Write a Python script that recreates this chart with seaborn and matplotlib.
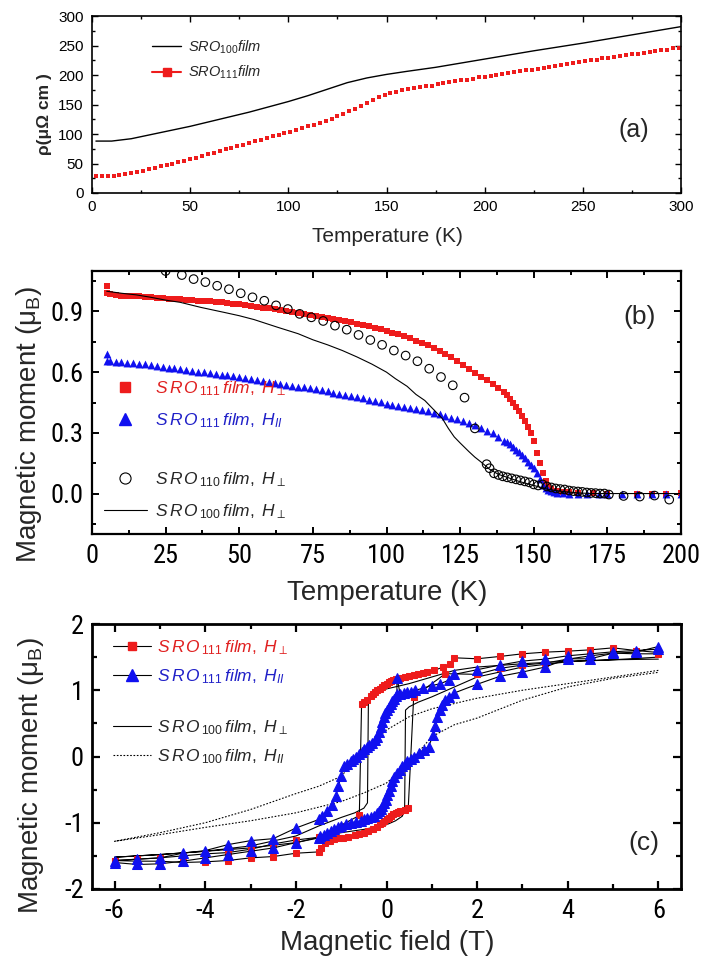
import numpy as np
import pandas as pd
import matplotlib
matplotlib.use('Agg')
import matplotlib.pyplot as plt
from matplotlib.lines import Line2D
from matplotlib.ticker import MultipleLocator
from matplotlib import font_manager
import seaborn as sns

# ---------------- data: panel (a) resistivity ----------------
T_a_100 = [2, 10, 20, 30, 40, 50, 60, 70, 80, 90, 100, 110, 120, 130, 140, 150, 160, 175, 200, 225, 250, 275, 300]
rho_100 = [88, 88, 92, 99, 106, 113, 121, 129, 137, 146, 155, 165, 176, 187, 195, 201, 206, 213, 227, 241, 254, 268, 282]

T_a_111 = [2, 5, 8, 11, 14, 17, 20, 23, 26, 29, 32, 35, 38, 41, 44, 47, 50, 53, 56, 59,
           62, 65, 68, 71, 74, 77, 80, 83, 86, 89, 92, 95, 98, 101, 104, 107, 110, 113, 116, 119,
           122, 125, 128, 131, 134, 137, 140, 143, 146, 149, 152, 155, 158, 161, 164, 167, 170, 173, 176, 179,
           182, 185, 188, 191, 194, 197, 200, 203, 206, 209, 212, 215, 218, 221, 224, 227, 230, 233, 236, 239,
           242, 245, 248, 251, 254, 257, 260, 263, 266, 269, 272, 275, 278, 281, 284, 287, 290, 293, 296, 299]
rho_111 = [28, 28, 28, 29, 30, 32, 34, 36, 38, 40, 42, 45, 47, 50, 52, 55, 57, 60, 63, 66,
           68, 71, 74, 77, 79, 82, 85, 88, 90, 93, 96, 98, 101, 104, 107, 110, 113, 116, 119, 122,
           126, 130, 134, 139, 143, 148, 153, 158, 162, 166, 169, 172, 174, 176, 178, 180, 181, 182, 184, 186,
           188, 190, 191, 192, 194, 196, 197, 199, 200, 202, 203, 205, 206, 208, 209, 211, 212, 214, 215, 217,
           218, 220, 222, 223, 225, 226, 228, 229, 231, 232, 234, 235, 236, 238, 239, 241, 242, 243, 245, 246]

# ---------------- data: panel (b) M(T) ----------------
T_b_111perp = [5, 5, 6, 8, 10, 12, 14, 16, 18, 20, 22, 24, 26, 28, 30, 32, 34, 36, 38, 40, 42, 44, 46, 48, 50,
               52, 54, 56, 58, 60, 62, 64, 66, 68, 70, 72, 74, 76, 78, 80, 82, 84, 86, 88, 90, 92, 94, 96, 98, 100,
               102, 104, 106, 108, 110, 112, 114, 116, 118, 120, 122, 124, 126, 128, 130, 132, 134, 136, 138, 140,
               141, 142, 143, 144, 145, 146, 147, 148, 149, 150, 151, 152, 153, 154, 155, 156,
               158, 160, 162, 165, 170, 175, 185, 190, 195, 200]
M_b_111perp = [1.025, 0.99, 0.985,
               0.98, 0.978, 0.977, 0.976, 0.975, 0.973, 0.97, 0.968, 0.966, 0.964,
               0.962, 0.96, 0.958, 0.956, 0.954, 0.952, 0.95, 0.948, 0.946, 0.943,
               0.939, 0.935, 0.931, 0.927, 0.923, 0.919, 0.915, 0.911, 0.907, 0.903,
               0.898, 0.893, 0.889, 0.884, 0.88, 0.875, 0.87, 0.864, 0.858, 0.852,
               0.846, 0.84, 0.833, 0.826, 0.819, 0.812, 0.805, 0.796, 0.787, 0.777,
               0.767, 0.756, 0.744, 0.732, 0.718, 0.704, 0.69, 0.673, 0.655, 0.636,
               0.616, 0.595, 0.577, 0.559, 0.54, 0.52, 0.5,
               0.485, 0.468, 0.45, 0.43, 0.41, 0.385, 0.36, 0.33, 0.3, 0.26, 0.2, 0.15, 0.1, 0.06, 0.035, 0.02,
               0.015, 0.01, 0.008, 0.005, 0.003, 0.0, 0.0, 0.0, 0.0, 0.005]

T_b_111par = [5, 5, 6, 8, 10, 12, 14, 16, 18, 20, 22, 24, 26, 28, 30, 32, 34, 36, 38, 40, 42, 44, 46, 48, 50,
              52, 54, 56, 58, 60, 62, 64, 66, 68, 70, 72, 74, 76, 78, 80, 82, 84, 86, 88, 90, 92, 94, 96, 98, 100,
              102, 104, 106, 108, 110, 112, 114, 116, 118, 120, 122, 124, 126, 128, 130, 132, 134, 136, 138, 140,
              141, 142, 143, 144, 145, 146, 147, 148, 149, 150, 151, 152, 153, 154, 155, 156, 157, 158,
              160, 162, 165, 168, 172, 175, 180, 185, 190, 195, 200]
M_b_111par = [0.69, 0.655, 0.653,
              0.65, 0.648, 0.646, 0.644, 0.641, 0.638, 0.634, 0.63, 0.627, 0.623,
              0.619, 0.615, 0.611, 0.607, 0.603, 0.599, 0.595, 0.591, 0.587, 0.584,
              0.581, 0.578, 0.573, 0.567, 0.562, 0.557, 0.551, 0.547, 0.542, 0.538,
              0.534, 0.529, 0.525, 0.52, 0.516, 0.51, 0.505, 0.499, 0.494, 0.488,
              0.483, 0.477, 0.471, 0.464, 0.458, 0.452, 0.445, 0.439, 0.433, 0.428,
              0.422, 0.417, 0.411, 0.406, 0.4, 0.392, 0.383, 0.375, 0.366, 0.357,
              0.347, 0.338, 0.325, 0.311, 0.297, 0.28, 0.262,
              0.254, 0.245, 0.231, 0.217, 0.203, 0.189, 0.174, 0.158, 0.141, 0.125, 0.1, 0.072, 0.043, 0.028,
              0.018, 0.012, 0.008, 0.005,
              0.003, 0.0, 0.0, 0.0, 0.0, 0.0, 0.0, 0.0, 0.0, 0.0, 0.0]

T_b_110perp = [25, 30.5, 34.5, 38.5, 42.5, 46.5, 50.5, 54.5, 58.5, 62.5, 66.5, 70.5, 74.5, 78.5, 82.5, 86.5,
               90.5, 94.5, 98.5, 102.5, 106.5, 110.5, 114.5, 118.5, 122.5, 126.5,
               130, 134, 135, 136.5, 138, 139.5, 141, 142.5, 144, 145.5,
               147, 148.5, 150, 151.5, 153, 154.5, 156, 157.5, 159, 160.5,
               162, 163.5, 165, 166.5, 168, 169.5, 171, 172.5, 174, 175.5,
               180.5, 186, 191, 196]
M_b_110perp = [1.10, 1.08, 1.06, 1.045, 1.027, 1.01, 0.99, 0.97, 0.953, 0.93, 0.912, 0.888, 0.871, 0.853, 0.83, 0.81,
               0.784, 0.759, 0.735, 0.707, 0.682, 0.654, 0.617, 0.576, 0.535, 0.474,
               0.322, 0.145, 0.125, 0.1, 0.092, 0.085, 0.08, 0.075, 0.07, 0.065,
               0.06, 0.055, 0.045, 0.04, 0.045, 0.035, 0.03, 0.025, 0.022, 0.02,
               0.015, 0.012, 0.01, 0.008, 0.005, 0.003, 0.002, 0.0, 0.0, -0.005,
               -0.012, -0.015, -0.01, -0.03]

T_b_100perp = [5, 10, 15, 20, 25, 30, 37, 45, 50, 55, 63, 70, 75, 80, 85, 90, 95, 100, 103, 107,
               110, 113, 115, 117, 119, 121, 123, 125, 128, 130, 132, 135, 138, 141, 145, 150, 155, 160, 165, 170,
               180, 190, 200]
M_b_100perp = [1.0, 0.99, 0.982, 0.97, 0.956, 0.945, 0.92, 0.895, 0.879, 0.86, 0.822, 0.79, 0.76, 0.735, 0.707,
               0.675, 0.64, 0.6, 0.568, 0.53, 0.49, 0.46, 0.43, 0.4, 0.37, 0.322, 0.28, 0.25, 0.207, 0.18,
               0.157, 0.12, 0.095, 0.08, 0.06, 0.04, 0.02, 0.01, 0.003, 0.0, 0.0, 0.0, 0.0]

# ---------------- data: panel (c) M(H) loops ----------------
H_111perp = [6, 5.5, 5, 4.5, 4, 3.5, 3, 2.5, 2, 1.5, 1.4, 1.25, 1.05, 0.9, 0.8, 0.7, 0.6, 0.5, 0.4, 0.3,
             0.2, 0.15, 0.1, 0.05, 0.0, -0.05, -0.1, -0.15, -0.2, -0.25, -0.3, -0.35, -0.43, -0.5, -0.55, -0.6,
             -1.5, -2, -2.5, -3, -3.5, -4, -4.5, -5, -5.5, -6,
             -6, -5.5, -5, -4.5, -4, -3.5, -3, -2.5, -2, -1.5, -1.45, -1.35, -1.25, -1.15, -1.05, -0.95, -0.85,
             -0.7, -0.6, -0.5, -0.4, -0.3, -0.2, -0.15, -0.1, -0.05, 0.0, 0.05, 0.1, 0.15, 0.2, 0.25, 0.3, 0.4,
             0.48, 0.6, 1.3, 2, 2.5, 3, 3.5, 4, 4.5, 5, 5.5, 6]
M_111perp = [1.57, 1.6, 1.64, 1.61, 1.59, 1.575, 1.55, 1.51, 1.475, 1.49, 1.39, 1.35, 1.3, 1.28, 1.265, 1.25,
             1.225, 1.21, 1.2, 1.18, 1.17, 1.16, 1.14, 1.12, 1.1, 1.08, 1.05, 1.025, 1.0, 0.97, 0.95, 0.91, 0.85,
             0.82, 0.79, -0.89,
             -1.22, -1.26, -1.32, -1.40, -1.45, -1.47, -1.5, -1.53, -1.55, -1.57,
             -1.57, -1.58, -1.58, -1.6, -1.59, -1.57, -1.53, -1.51, -1.46, -1.44, -1.375, -1.3, -1.27, -1.25,
             -1.235, -1.225, -1.21, -1.19, -1.17, -1.15, -1.13, -1.1, -1.06, -1.025, -1.0, -0.97, -0.95, -0.925,
             -0.9, -0.875, -0.86, -0.845, -0.825, -0.8, -0.775, 0.9, 1.25, 1.24, 1.33, 1.38, 1.41, 1.47, 1.52,
             1.56, 1.55, 1.55]

H_111par = [6, 5.5, 5, 4.5, 4, 3.5, 3, 2.5, 2, 1.5, 1.37, 1.19, 1.0, 0.8, 0.64, 0.53, 0.45, 0.38, 0.3, 0.23,
            0.23, 0.2, 0.16, 0.12, 0.09, 0.05, 0.01, -0.03, -0.06, -0.1, -0.13, -0.17, -0.21, -0.26, -0.32, -0.38,
            -0.43, -0.5, -0.54, -0.6, -0.68, -0.75, -0.79, -0.87, -0.94, -1.01, -1.06, -1.12, -1.2, -1.31, -1.42,
            -1.49, -2, -2.5, -3, -3.5, -4, -4.5, -5, -5.5, -6,
            -6, -5.5, -5, -4.5, -4, -3.5, -3, -2.5, -2, -1.5, -1.46, -1.38, -1.31, -1.23, -1.16, -1.08, -1.01,
            -0.9, -0.79, -0.68, -0.57, -0.5, -0.43, -0.35, -0.28, -0.22, -0.17, -0.13, -0.1, -0.06, -0.02, 0.02,
            0.05, 0.09, 0.12, 0.17, 0.23, 0.29, 0.35, 0.4, 0.46, 0.53, 0.6, 0.71, 0.82, 0.93, 1.03, 1.08, 1.12,
            1.18, 1.23, 1.3, 1.37, 1.5, 2, 2.5, 3, 3.5, 4, 4.5, 5, 5.5, 6]
M_111par = [1.62, 1.6, 1.58, 1.55, 1.52, 1.47, 1.44, 1.38, 1.31, 1.24, 1.15, 1.1, 1.07, 1.03, 1.0, 0.975, 0.97,
            0.96, 0.95, 1.19, 0.94, 0.91, 0.875, 0.84, 0.8, 0.75, 0.7, 0.65, 0.6, 0.52, 0.45, 0.37, 0.3, 0.25,
            0.2, 0.17, 0.15, 0.11, 0.075, 0.04, 0.0, -0.04, -0.075, -0.11, -0.15, -0.3, -0.45, -0.6, -0.725,
            -0.825, -0.9, -0.95, -1.08, -1.24, -1.27, -1.33, -1.42, -1.46, -1.53, -1.55, -1.57,
            -1.6, -1.63, -1.62, -1.58, -1.53, -1.48, -1.43, -1.38, -1.3, -1.23, -1.2, -1.18, -1.15, -1.12, -1.1,
            -1.07, -1.05, -1.02, -1.0, -0.99, -0.975, -0.95, -0.925, -0.91, -0.9, -0.86, -0.825, -0.79, -0.75,
            -0.7, -0.65, -0.58, -0.525, -0.45, -0.375, -0.31, -0.25, -0.2, -0.15, -0.11, -0.075, -0.04, 0.0,
            0.05, 0.1, 0.15, 0.325, 0.46, 0.6, 0.7, 0.775, 0.85, 0.9, 0.96, 1.09, 1.21, 1.275, 1.35, 1.475,
            1.475, 1.56, 1.575, 1.66]

H_100perp = [6, 5, 4, 3, 2, 1.5, 1, 0.5, 0, -0.2, -0.35, -0.4, -0.42, -0.5, -0.7, -1, -1.5, -2, -3, -4, -5, -6,
             -6, -5, -4, -3, -2, -1.5, -1, -0.5, 0, 0.2, 0.35, 0.4, 0.42, 0.5, 0.7, 1, 1.5, 2, 3, 4, 5, 6]
M_100perp = [1.47, 1.46, 1.44, 1.4, 1.35, 1.3, 1.2, 1.1, 1.02, 0.97, 0.9, 0.8, -0.7, -0.78, -0.85, -0.92, -1.05,
             -1.2, -1.35, -1.43, -1.48, -1.52,
             -1.52, -1.48, -1.43, -1.38, -1.3, -1.22, -1.15, -1.1, -1.03, -0.97, -0.9, -0.8, 0.7, 0.75, 0.82,
             0.9, 1.05, 1.2, 1.35, 1.43, 1.46, 1.5]

H_100par = [6, 5, 4, 3, 2, 1, 0.5, 0, -0.5, -1, -1.5, -2, -3, -4, -5, -6,
            -6, -5, -4, -3, -2, -1, -0.5, 0, 0.5, 1, 1.5, 2, 3, 4, 5, 6]
M_100par = [1.30, 1.2, 1.1, 1.0, 0.88, 0.72, 0.6, 0.4, 0.1, -0.3, -0.45, -0.56, -0.8, -1.0, -1.15, -1.28,
            -1.28, -1.18, -1.07, -0.97, -0.85, -0.68, -0.55, -0.4, -0.1, 0.3, 0.48, 0.58, 0.85, 1.05, 1.18, 1.27]

# ---------------- tick labels / text ----------------
xt_a = [0, 50, 100, 150, 200, 250, 300]
yt_a = [0, 50, 100, 150, 200, 250, 300]
xt_b = [0, 25, 50, 75, 100, 125, 150, 175, 200]
yt_b = [0.0, 0.3, 0.6, 0.9]
xt_c = [-6, -4, -2, 0, 2, 4, 6]
yt_c = [-2, -1, 0, 1, 2]

# ---------------- style ----------------
sns.set_theme(style='ticks')
names = {f.name for f in font_manager.fontManager.ttflist}
NARROW = 'Liberation Sans'
for cand in ['Liberation Sans Narrow', 'Arial Narrow', 'Roboto Condensed', 'Open Sans Condensed']:
    if cand in names:
        NARROW = cand
        break
TICKSIZE = 19 if NARROW != 'Liberation Sans' else 18
plt.rcParams['font.family'] = ['Liberation Sans', 'DejaVu Sans']
plt.rcParams['mathtext.fontset'] = 'custom'
plt.rcParams['mathtext.it'] = 'Liberation Sans:italic'
plt.rcParams['mathtext.rm'] = 'Liberation Sans'
plt.rcParams['mathtext.sf'] = 'Liberation Sans'
plt.rcParams['mathtext.bf'] = 'Liberation Sans:bold'
plt.rcParams['axes.unicode_minus'] = False

RED = '#ee1c1c'
BLUE = '#1010f0'
TRED = '#e02020'
TBLUE = '#2020c8'

fig = plt.figure(figsize=(7.04, 9.61), dpi=100)
fig.patch.set_facecolor('white')
W, H = 704.0, 961.0


def box(l, t, r, b):
    return [l / W, 1 - b / H, (r - l) / W, (b - t) / H]


def style_axes(ax, lw, majlen, minlen, tw):
    for s in ax.spines.values():
        s.set_linewidth(lw)
        s.set_color('black')
    ax.tick_params(which='both', direction='in', top=True, right=True, colors='black')
    ax.tick_params(which='major', length=majlen, width=tw)
    ax.tick_params(which='minor', length=minlen, width=tw)
    ax.set_facecolor('white')
    ax.grid(False)
    ax.set_xlabel('')
    ax.set_ylabel('')


# ================= panel (a) =================
ax_a = fig.add_axes(box(92, 16, 681, 193))
sns.lineplot(x=T_a_100, y=rho_100, ax=ax_a, color='black', lw=1.0, sort=False, estimator=None)
sns.scatterplot(x=T_a_111, y=rho_111, ax=ax_a, marker='s', s=10, color=RED, edgecolor=RED, linewidth=0)
ax_a.set_xlim(0, 300)
ax_a.set_ylim(0, 300)
ax_a.xaxis.set_minor_locator(MultipleLocator(25))
ax_a.yaxis.set_minor_locator(MultipleLocator(25))
ax_a.set_xticks(xt_a, [str(v) for v in xt_a], fontsize=11)
ax_a.set_yticks(yt_a, [str(v) for v in yt_a], fontsize=11)
style_axes(ax_a, 1.2, 4, 2.5, 1.0)
ax_a.tick_params(axis='x', which='major', pad=5)
ax_a.tick_params(axis='y', which='major', pad=6)
ax_a.text(0.92, 0.356, '(a)', transform=ax_a.transAxes, fontsize=18, ha='center', va='center')
h_a = [Line2D([], [], color='black', lw=1.0),
       Line2D([], [], color=RED, lw=1.5, marker='s', ms=6, mfc=RED, mec=RED)]
leg_a = ax_a.legend(h_a, [r'$SRO_{100}film$', r'$SRO_{111}film$'], loc='center left',
                    bbox_to_anchor=(0.1019, 0.7514), frameon=False, fontsize=10.5,
                    handlelength=2.0, handletextpad=0.5, labelspacing=0.55,
                    borderpad=0, borderaxespad=0)
fig.text(387 / W, 1 - 237 / H, 'Temperature (K)', fontsize=15, ha='center', va='center')
fig.text(45 / W, 1 - 114 / H, 'ρ(μΩ cm )', fontsize=12.5, fontweight='bold', rotation=90,
         ha='center', va='center')

# ================= panel (b) =================
ax_b = fig.add_axes(box(92, 271, 681, 534))
sns.lineplot(x=T_b_100perp, y=M_b_100perp, ax=ax_b, color='black', lw=0.8, sort=False, estimator=None)
sns.scatterplot(x=T_b_111perp, y=M_b_111perp, ax=ax_b, marker='s', s=22, color=RED, edgecolor=RED, linewidth=0)
sns.scatterplot(x=T_b_111par, y=M_b_111par, ax=ax_b, marker='^', s=32, color=BLUE, edgecolor=BLUE, linewidth=0)
sns.scatterplot(x=T_b_110perp, y=M_b_110perp, ax=ax_b, marker='o', s=38, facecolor='none',
                edgecolor='black', linewidth=0.8)
ax_b.set_xlim(0, 200)
ax_b.set_ylim(-0.2, 1.1)
ax_b.xaxis.set_minor_locator(MultipleLocator(12.5))
ax_b.yaxis.set_minor_locator(MultipleLocator(0.15))
ax_b.set_xticks(xt_b, [str(v) for v in xt_b], fontsize=TICKSIZE, fontfamily=NARROW)
ax_b.set_yticks(yt_b, ['%.1f' % v for v in yt_b], fontsize=TICKSIZE, fontfamily=NARROW)
style_axes(ax_b, 1.6, 5, 3, 1.4)
ax_b.tick_params(axis='x', which='major', pad=7)
ax_b.tick_params(axis='y', which='major', pad=6)
ax_b.text(0.93, 0.826, '(b)', transform=ax_b.transAxes, fontsize=19, ha='center', va='center')

h_b1 = [Line2D([], [], ls='', marker='s', ms=7, mfc=RED, mec=RED),
        Line2D([], [], ls='', marker='^', ms=9, mfc=BLUE, mec=BLUE)]
leg_b1 = ax_b.legend(h_b1, [r'$S\,R\,O_{\,111}\,film,\ H_{\perp}$', r'$S\,R\,O_{\,111}\,film,\ H_{II}$'],
                     loc='center left', bbox_to_anchor=(0.0204, 0.4924), frameon=False, fontsize=12.5,
                     handlelength=2.46, handletextpad=0.48, labelspacing=0.75, borderpad=0, borderaxespad=0)
for t, c in zip(leg_b1.get_texts(), [TRED, TBLUE]):
    t.set_color(c)
ax_b.add_artist(leg_b1)
h_b2 = [Line2D([], [], ls='', marker='o', ms=8, mfc='none', mec='black', mew=0.8),
        Line2D([], [], color='black', lw=0.8)]
leg_b2 = ax_b.legend(h_b2, [r'$S\,R\,O_{\,110}\,film,\ H_{\perp}$', r'$S\,R\,O_{\,100}\,film,\ H_{\perp}$'],
                     loc='center left', bbox_to_anchor=(0.0204, 0.1464), frameon=False, fontsize=12.5,
                     handlelength=2.46, handletextpad=0.48, labelspacing=0.75, borderpad=0, borderaxespad=0)
fig.text(387 / W, 1 - 593 / H, 'Temperature (K)', fontsize=20, ha='center', va='center')
fig.text(29 / W, 1 - 424 / H, r'Magnetic moment ($\mathrm{\mu}_{\mathrm{B}}$)', fontsize=20, rotation=90,
         ha='center', va='center')

# ================= panel (c) =================
ax_c = fig.add_axes(box(92, 624, 681, 889))
sns.lineplot(x=H_100par, y=M_100par, ax=ax_c, color='black', lw=0.8, ls=(0, (1.5, 1.5)), sort=False,
             estimator=None)
sns.lineplot(x=H_100perp, y=M_100perp, ax=ax_c, color='black', lw=0.8, sort=False, estimator=None)
sns.lineplot(x=H_111perp, y=M_111perp, ax=ax_c, color='black', lw=0.8, sort=False, estimator=None,
             marker='s', markersize=4.2, markerfacecolor=RED, markeredgecolor=RED)
sns.lineplot(x=H_111par, y=M_111par, ax=ax_c, color='black', lw=0.8, sort=False, estimator=None,
             marker='^', markersize=6.5, markerfacecolor=BLUE, markeredgecolor=BLUE)
ax_c.set_xlim(-6.5, 6.5)
ax_c.set_ylim(-2, 2)
ax_c.xaxis.set_minor_locator(MultipleLocator(1))
ax_c.yaxis.set_minor_locator(MultipleLocator(0.5))
ax_c.set_xticks(xt_c, [str(v) for v in xt_c], fontsize=TICKSIZE, fontfamily=NARROW)
ax_c.set_yticks(yt_c, [str(v) for v in yt_c], fontsize=TICKSIZE, fontfamily=NARROW)
style_axes(ax_c, 2.0, 6, 3.5, 1.6)
ax_c.tick_params(axis='x', which='major', pad=7)
ax_c.tick_params(axis='y', which='major', pad=6)
ax_c.text(0.937, 0.172, '(c)', transform=ax_c.transAxes, fontsize=19, ha='center', va='center')

h_c1 = [Line2D([], [], color='black', lw=0.8, marker='s', ms=6, mfc=RED, mec=RED),
        Line2D([], [], color='black', lw=0.8, marker='^', ms=9, mfc=BLUE, mec=BLUE)]
leg_c1 = ax_c.legend(h_c1, [r'$S\,R\,O_{\,111}\,film,\ H_{\perp}$', r'$S\,R\,O_{\,111}\,film,\ H_{II}$'],
                     loc='center left', bbox_to_anchor=(0.0357, 0.8566), frameon=False, fontsize=12.5,
                     handlelength=2.16, handletextpad=0.36, labelspacing=0.6, borderpad=0, borderaxespad=0)
for t, c in zip(leg_c1.get_texts(), [TRED, TBLUE]):
    t.set_color(c)
ax_c.add_artist(leg_c1)
h_c2 = [Line2D([], [], color='black', lw=0.8),
        Line2D([], [], color='black', lw=0.8, ls=(0, (1.5, 1.5)))]
leg_c2 = ax_c.legend(h_c2, [r'$S\,R\,O_{\,100}\,film,\ H_{\perp}$', r'$S\,R\,O_{\,100}\,film,\ H_{II}$'],
                     loc='center left', bbox_to_anchor=(0.0357, 0.5547), frameon=False, fontsize=12.5,
                     handlelength=2.16, handletextpad=0.36, labelspacing=0.6, borderpad=0, borderaxespad=0)
fig.text(387 / W, 1 - 943 / H, 'Magnetic field (T)', fontsize=20, ha='center', va='center')
fig.text(31 / W, 1 - 775 / H, r'Magnetic moment ($\mathrm{\mu}_{\mathrm{B}}$)', fontsize=20, rotation=90,
         ha='center', va='center')

fig.savefig('out.png', dpi=100, facecolor='white')
